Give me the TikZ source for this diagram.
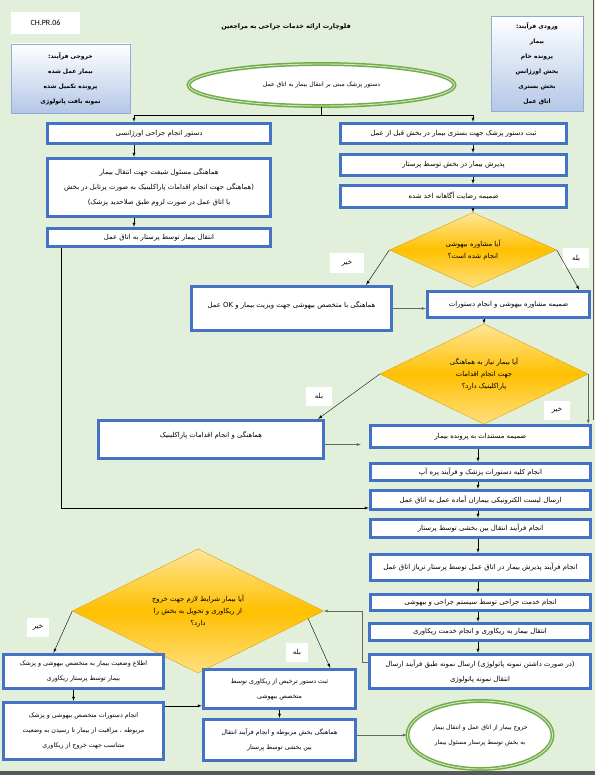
\documentclass[tikz,border=0pt]{standalone}
\usepackage{fontspec}
\setmainfont{Carlito}
\newfontfamily\arabicfont[Script=Arabic]{DejaVu Sans}
\TeXXeTstate=1
\usetikzlibrary{shapes.geometric,shadows}

\definecolor{pagegreen}{RGB}{226,239,218}
\definecolor{boxblue}{RGB}{68,114,196}
\definecolor{dgold}{RGB}{255,192,0}
\definecolor{egreen}{RGB}{112,173,71}
\definecolor{ioblue}{RGB}{180,199,231}
\definecolor{ioedge}{RGB}{143,170,220}

\newcommand{\fa}[1]{\beginR #1\endR}

\begin{document}
\begin{tikzpicture}[
    x=1pt, y=-1pt,
    box/.style={rectangle, draw=boxblue, line width=3.4pt, fill=white, align=center,
        inner sep=1pt, font=\arabicfont\fontsize{6.9}{15}\selectfont},
    decision/.style={diamond, draw=dgold!85!black, thin, top color=dgold!40!white,
        bottom color=dgold!50!white, middle color=dgold, align=center, inner sep=0pt,
        font=\arabicfont\fontsize{6.9}{12}\selectfont},
    terminal/.style={ellipse, draw=egreen, line width=1.5pt, double=white!70!egreen,
        double distance=0.9pt, fill=white, align=center, inner sep=0pt,
        font=\arabicfont\fontsize{6.1}{15}\selectfont},
    iobox/.style={rectangle, draw=ioedge, top color=white, bottom color=ioblue, align=center,
        drop shadow={opacity=0.35, shadow xshift=1pt, shadow yshift=-1pt},
        font=\arabicfont\bfseries\fontsize{6}{15}\selectfont},
    answer/.style={rectangle, fill=white, inner sep=0pt, minimum width=26, minimum height=19,
        font=\arabicfont\fontsize{7}{8}\selectfont},
    arrow/.style={-latex, thin},
    garrow/.style={-latex, thin, draw=black!60}
]
\useasboundingbox (0,0) rectangle (595,775);
\fill[pagegreen] (0,0) rectangle (595,775);
\fill[black!65] (0,771) rectangle (595,775);
\draw[black!65, line width=1.5pt] (593.5,0) -- (593.5,420);

% header
\node[fill=white, minimum width=69, minimum height=22, font=\fontsize{8}{10}\selectfont]
    (code) at (45.5,23) {CH.PR.06};
\node[font=\arabicfont\bfseries\fontsize{6.4}{9}\selectfont] (title) at (286,27)
    {\fa{فلوچارت ارائه خدمات جراحی به مراجعین}};
\node[iobox, minimum width=119, minimum height=69] (output) at (70.5,78.5)
    {\fa{خروجی فرآیند:}\\\fa{بیمار عمل شده}\\\fa{پرونده تکمیل شده}\\\fa{نمونه بافت پاتولوژی}};
\node[iobox, minimum width=92, minimum height=95] (input) at (537,64)
    {\fa{ورودی فرآیند:}\\\fa{بیمار}\\\fa{پرونده خام}\\\fa{بخش اورژانس}\\\fa{بخش بستری}\\\fa{اتاق عمل}};
\node[terminal, minimum width=266, minimum height=42] (start) at (321.5,85)
    {\fa{دستور پزشک مبنی بر انتقال بیمار به اتاق عمل}};

% left column
\node[box, minimum width=223, minimum height=20] (L1) at (159,133.5)
    {\fa{دستور انجام جراحی اورژانسی}};
\node[box, minimum width=223, minimum height=58] (L2) at (159,187.5)
    {\fa{هماهنگی مسئول شیفت جهت انتقال بیمار}\\
     \fa{(هماهنگی جهت انجام اقدامات پاراکلینیک به صورت پرتابل در بخش}\\
     \fa{یا اتاق عمل در صورت لزوم طبق صلاحدید پزشک)}};
\node[box, minimum width=223, minimum height=18] (L3) at (159,237.5)
    {\fa{انتقال بیمار توسط پرستار به اتاق عمل}};

% right column
\node[box, minimum width=226, minimum height=20] (R1) at (453.5,133.5)
    {\fa{ثبت دستور پزشک جهت بستری بیمار در بخش قبل از عمل}};
\node[box, minimum width=226, minimum height=21] (R2) at (453.5,165)
    {\fa{پذیرش بیمار در بخش توسط پرستار}};
\node[box, minimum width=226, minimum height=22] (R3) at (453.5,196.5)
    {\fa{ضمیمه رضایت آگاهانه اخذ شده}};
\node[decision, minimum width=167, minimum height=65] (D1) at (473,250)
    {\fa{آیا مشاوره بیهوشی}\\\fa{انجام شده است؟}};
\node[box, minimum width=200, minimum height=44, text depth=8pt] (M1) at (291.5,308.5)
    {\fa{هماهنگی با متخصص بیهوشی جهت ویزیت بیمار و \beginL OK\endL{} عمل}};
\node[box, minimum width=162, minimum height=26] (R4) at (508.5,304.5)
    {\fa{ضمیمه مشاوره بیهوشی و انجام دستورات}};
\node[decision, minimum width=208, minimum height=87] (D2) at (484,374)
    {\fa{آیا بیمار نیاز به هماهنگی}\\\fa{جهت انجام اقدامات}\\\fa{پاراکلینیک دارد؟}};
\node[box, minimum width=225, minimum height=38, text depth=10pt] (P) at (211,439.5)
    {\fa{هماهنگی و انجام اقدامات پاراکلینیک}};
\node[box, minimum width=220, minimum height=22] (R5) at (480.5,436.5)
    {\fa{ضمیمه مستندات به پرونده بیمار}};
\node[box, minimum width=220, minimum height=17] (R6) at (480.5,472)
    {\fa{انجام کلیه دستورات پزشک و فرآیند پره آپ}};
\node[box, minimum width=220, minimum height=19] (R7) at (480.5,500)
    {\fa{ارسال لیست الکترونیکی بیماران آماده عمل به اتاق عمل}};
\node[box, minimum width=220, minimum height=18] (R8) at (480.5,528.5)
    {\fa{انجام فرآیند انتقال بین بخشی توسط پرستار}};
\node[box, minimum width=220, minimum height=26] (R9) at (480.5,567.5)
    {\fa{انجام فرآیند پذیرش بیمار در اتاق عمل توسط پرستار تریاژ اتاق عمل}};
\node[box, minimum width=220, minimum height=16] (R10) at (480.5,602.5)
    {\fa{انجام خدمت جراحی توسط سیستم جراحی و بیهوشی}};
\node[box, minimum width=221, minimum height=17] (R11) at (480,632)
    {\fa{انتقال بیمار به ریکاوری و انجام خدمت ریکاوری}};
\node[box, minimum width=221, minimum height=34] (R12) at (480,671.5)
    {\fa{(در صورت داشتن نمونه پاتولوژی) ارسال نمونه طبق فرآیند ارسال}\\
     \fa{انتقال نمونه پاتولوژی}};
\node[terminal, minimum width=145, minimum height=68] (finish) at (480,735)
    {\fa{خروج بیمار از اتاق عمل و انتقال بیمار}\\\fa{به بخش توسط پرستار مسئول بیمار}};

% recovery part
\node[decision, minimum width=251, minimum height=97] (D3) at (198,611)
    {\fa{آیا بیمار شرایط لازم جهت خروج}\\\fa{از ریکاوری و تحویل به بخش را}\\\fa{دارد؟}};
\node[box, minimum width=160, minimum height=34, font=\arabicfont\fontsize{6.3}{15}\selectfont] (B1) at (83.5,671.5)
    {\fa{اطلاع وضعیت بیمار به متخصص بیهوشی و پزشک}\\\fa{بیمار توسط پرستار ریکاوری}};
\node[box, minimum width=160, minimum height=57, font=\arabicfont\fontsize{6.3}{15}\selectfont] (B2) at (83.5,731)
    {\fa{انجام دستورات متخصص بیهوشی و پزشک}\\
     \fa{مربوطه ، مراقبت از بیمار تا رسیدن به وضعیت}\\
     \fa{متناسب جهت خروج از ریکاوری}};
\node[box, minimum width=152, minimum height=39, font=\arabicfont\fontsize{6.3}{15}\selectfont] (C1) at (279.5,689)
    {\fa{ثبت دستور ترخیص از ریکاوری توسط}\\\fa{متخصص بیهوشی}};
\node[box, minimum width=152, minimum height=41, font=\arabicfont\fontsize{6.3}{15}\selectfont] (C2) at (279.5,740)
    {\fa{هماهنگی بخش مربوطه و انجام فرآیند انتقال}\\\fa{بین بخشی توسط پرستار}};

% answers
\node[answer, minimum width=34, minimum height=20] (no1) at (347,263) {\fa{خیر}};
\node[answer] (yes1) at (576,258) {\fa{بله}};
\node[answer] (yes2) at (319,396) {\fa{بله}};
\node[answer] (no2) at (557,410) {\fa{خیر}};
\node[answer, minimum width=22] (no3) at (38,627) {\fa{خیر}};
\node[answer, minimum width=22] (yes3) at (297,652) {\fa{بله}};

% connectors
\coordinate (split) at (start.south |- 0,115);
\coordinate (jl) at (134,115);
\coordinate (jr) at (473,115);
\coordinate (rc) at (478,0);
\coordinate (lbend) at (61,508);
\coordinate (loop) at (362,662);

\draw (start.south) -- (split);
\draw (jl) -- (jr);
\draw[arrow] (jl) -- (jl |- L1.north);
\draw[arrow] (jl |- L1.south) -- (jl |- L2.north);
\draw[arrow] (jl |- L2.south) -- (jl |- L3.north);
\draw[arrow] (jr) -- (jr |- R1.north);
\draw[arrow] (jr |- R1.south) -- (jr |- R2.north);
\draw[arrow] (jr |- R2.south) -- (jr |- R3.north);
\draw[arrow] (jr |- R3.south) -- (D1.north);

\draw[arrow] (D1.west) -- ([xshift=-27pt]M1.north east);
\draw[arrow] (D1.east) -- ([xshift=-12pt]R4.north east);
\draw[garrow] (M1.east) -- (M1.east -| R4.west);
\draw[arrow] (R4.south -| D2.north) -- (D2.north);
\draw[arrow] (D2.west) -- ([xshift=-7pt]P.north east);
\draw[garrow] (D2.east) -- (D2.east |- R5.north);
\draw[garrow, shorten >=8pt] ([yshift=-5pt]P.east) -- ([yshift=-5pt]P.east -| R5.west);

\foreach \a/\b in {R5/R6, R6/R7, R7/R8, R8/R9, R9/R10, R10/R11, R11/R12}
    \draw[arrow] (rc |- \a.south) -- (rc |- \b.north);

\draw[arrow] (L3.south -| lbend) -- (lbend) -- (lbend -| R7.west);
\draw[garrow] (R12.west |- loop) -- (loop) |- (D3.east);

\draw[arrow] (D3.west) -- ([xshift=-30pt]B1.north);
\draw[arrow] (D3.-4.6) -- ([xshift=-27pt]C1.north east);
\draw[arrow] ([xshift=-10pt]B1.south) -- ([xshift=-10pt]B2.north);
\draw[arrow] ([yshift=-5pt]B2.north east) -- ([yshift=-5pt]B2.north east -| C1.west);
\draw[arrow] (C1.south) -- (C2.north);
\draw[garrow] (C2.east |- finish.west) -- (finish.west);

\end{tikzpicture}
\end{document}
